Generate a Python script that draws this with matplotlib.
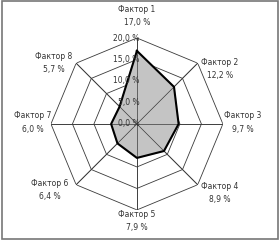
import numpy as np
import matplotlib.pyplot as plt
from matplotlib.patches import Rectangle

factors = ['Фактор 1', 'Фактор 2', 'Фактор 3', 'Фактор 4',
           'Фактор 5', 'Фактор 6', 'Фактор 7', 'Фактор 8']
values = [17.0, 12.2, 9.7, 8.9, 7.9, 6.4, 6.0, 5.7]
value_labels = ['17,0 %', '12,2 %', '9,7 %', '8,9 %', '7,9 %', '6,4 %', '6,0 %', '5,7 %']
rings = [5, 10, 15, 20]
ring_labels = ['0,0 %', '5,0 %', '10,0 %', '15,0 %', '20,0 %']

# label offsets (points) from each outer vertex
offsets = [(0, 16), (16, -4), (14, 1), (16, -6), (0, -8), (-19, -4), (-13, 1), (-16, 0)]

n = len(factors)
theta = np.arange(n) * 2 * np.pi / n
closed = np.append(theta, theta[0])

fig = plt.figure(figsize=(2.8, 2.4), dpi=100)
ax = fig.add_axes([0.182, 0.125, 0.614, 0.717], projection='polar')
ax.set_theta_offset(np.pi / 2)
ax.set_theta_direction(-1)
ax.set_ylim(0, 20)
ax.grid(False)
ax.set_xticks([])
ax.set_yticks([])
ax.spines['polar'].set_visible(False)
ax.patch.set_alpha(0)

grid_col = '#3a3a3a'
for r in rings:
    ax.plot(closed, [r] * (n + 1), color=grid_col, lw=0.6, zorder=1)
for t in theta:
    ax.plot([t, t], [0, 20], color=grid_col, lw=0.6, zorder=1)

vals = np.append(values, values[0])
ax.fill(closed, vals, color='#c4c4c4', zorder=2)
ax.plot(closed, vals, color='black', lw=1.5, zorder=3)
for t in theta:
    ax.plot([t, t], [0, 20], color=grid_col, lw=0.5, zorder=2.5)

for i, lab in enumerate(ring_labels):
    ax.annotate(lab, xy=(0, i * 5), xytext=(2, 0), textcoords='offset points',
                ha='right', va='center', fontsize=5.5, color='#333333', zorder=4)

for t, f, v, off in zip(theta, factors, value_labels, offsets):
    ax.annotate(f + '\n' + v, xy=(t, 20), xytext=off, textcoords='offset points',
                ha='center', va='center', fontsize=5.5, color='#333333',
                linespacing=1.6, annotation_clip=False)

fig.add_artist(Rectangle((0.006, 0.006), 0.988, 0.988, transform=fig.transFigure,
                         fill=False, edgecolor='#777777', lw=1.2))

fig.savefig('out.png', dpi=100)
